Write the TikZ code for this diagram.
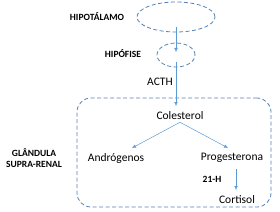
\documentclass[tikz,border=0pt]{standalone}
\usepackage{fontspec}
\setmainfont{Carlito}
\usetikzlibrary{arrows.meta, positioning, shapes.geometric}
\definecolor{DashBlue}{RGB}{84,130,181}
\definecolor{ArrowBlue}{RGB}{91,155,213}

\begin{document}
\begin{tikzpicture}[x=1pt, y=-1pt,
    organ/.style={ellipse, draw=DashBlue, thick, dash pattern=on 4pt off 2.5pt, inner sep=0pt},
    regionbox/.style={rectangle, draw=DashBlue, thick, dash pattern=on 4pt off 2.5pt, rounded corners=14pt, inner sep=0pt},
    label/.style={font=\bfseries\fontsize{9.5}{10.5}\selectfont, align=center, inner sep=0pt},
    hormone/.style={font=\fontsize{11.5}{13}\selectfont, inner sep=1pt},
    arrow/.style={-{Latex[length=4pt, width=3.5pt]}, draw=ArrowBlue, fill=ArrowBlue}
]
\useasboundingbox (0,0) rectangle (280,211);

\node[organ, minimum width=78pt, minimum height=30pt] (hipotalamo) at (176,17) {};
\node[organ, minimum width=38pt, minimum height=24pt] (hipofise) at (176,55) {};
\node[regionbox, minimum width=194pt, minimum height=109pt] (supra) at (174,152.5) {};

\node[label] (lbhipo) at (97,17) {HIPOTÁLAMO};
\node[label] (lbhipof) at (123,54) {HIPÓFISE};
\node[label] (lbsupra) at (34,158) {GLÂNDULA\\SUPRA-RENAL};

\node[hormone] (acth) at (160,82) {ACTH};
\node[hormone] (colesterol) at (180,116) {Colesterol};
\node[hormone] (androgenos) at (116,158) {Andrógenos};
\node[hormone] (progesterona) at (232,158) {Progesterona};
\node[hormone] (cortisol) at (237,200) {Cortisol};
\node[label] (enzima) at (212,179) {21-H};

\coordinate (hipoout) at (176,27);
\coordinate (hipofin) at (176,52);
\coordinate (hipofout) at (176,62);
\coordinate (colin) at (176,106);
\coordinate (progout) at (236,169);
\coordinate (cortin) at (236,190);

\draw[arrow] (hipoout) -- (hipofin);
\draw[arrow] (hipofout) -- (colin);
\draw[arrow] (colesterol.south) ++(0,1) -- (132,148);
\draw[arrow] (colesterol.south) ++(0,1) -- (228,148);
\draw[arrow] (progout) -- (cortin);
\end{tikzpicture}
\end{document}
